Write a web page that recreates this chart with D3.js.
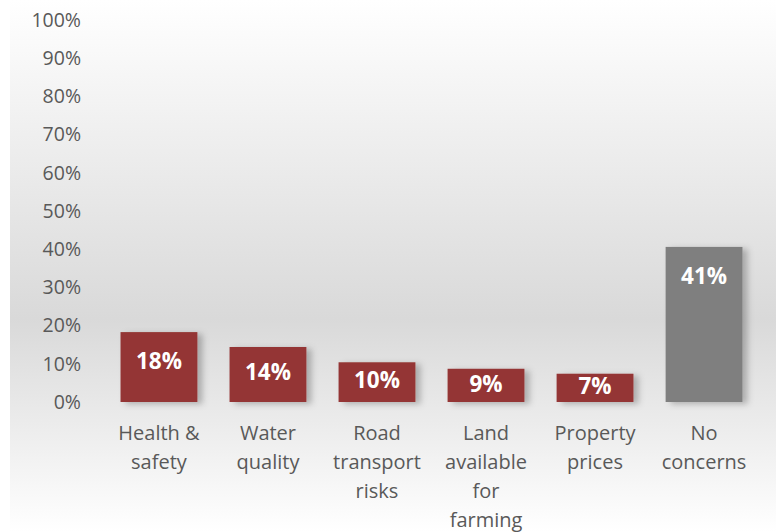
<!DOCTYPE html>
<html>
<head>
<meta charset="utf-8">
<script src="https://cdn.jsdelivr.net/npm/d3@7"></script>
<style>
html,body{margin:0;padding:0;background:#fff;}
svg{display:block;}
</style>
</head>
<body>
<svg id="chart" width="776" height="532"></svg>
<script>
const categories = [
  ["Health &", "safety"],
  ["Water", "quality"],
  ["Road", "transport", "risks"],
  ["Land", "available", "for", "farming"],
  ["Property", "prices"],
  ["No", "concerns"]
];
const values = [18.3, 14.4, 10.4, 8.7, 7.4, 40.6];
const barColors = ["#943634", "#943634", "#943634", "#943634", "#943634", "#7f7f7f"];
const yTicks = [0, 10, 20, 30, 40, 50, 60, 70, 80, 90, 100];

const W = 776, H = 532;
const svg = d3.select("#chart");
const defs = svg.append("defs");
const grad = defs.append("linearGradient").attr("id", "bg").attr("x1", 0).attr("y1", 0).attr("x2", 0).attr("y2", 1);
grad.append("stop").attr("offset", "0%").attr("stop-color", "#ffffff");
grad.append("stop").attr("offset", "60%").attr("stop-color", "#d9d9d9");
grad.append("stop").attr("offset", "100%").attr("stop-color", "#ffffff");
const f = defs.append("filter").attr("id", "shadow").attr("x", "-20%").attr("y", "-20%").attr("width", "150%").attr("height", "150%");
f.append("feDropShadow").attr("dx", 5).attr("dy", 2).attr("stdDeviation", 3).attr("flood-color", "#000").attr("flood-opacity", 0.25);

svg.append("rect").attr("x", 10).attr("y", 0).attr("width", W - 10).attr("height", H).attr("fill", "url(#bg)");

const font = "'Open Sans', Carlito, Calibri, Lato, sans-serif";
const y = d3.scaleLinear().domain([0, 100]).range([402, 20]);
const x = d3.scaleBand().domain(d3.range(categories.length)).range([104.5, 758.5]).paddingInner(0.295).paddingOuter(0.147);

const yAxis = svg.append("g").attr("transform", "translate(84,0)")
  .call(d3.axisLeft(y).tickValues(yTicks).tickFormat(d => d + "%").tickSize(0).tickPadding(3));
yAxis.select(".domain").remove();
yAxis.selectAll("text").attr("fill", "#595959").style("font-family", font).style("font-size", "19.5px");

const g = svg.append("g");
g.selectAll("rect.bar").data(values).enter().append("rect")
  .attr("class", "bar")
  .attr("x", (d, i) => x(i))
  .attr("y", d => y(d))
  .attr("width", x.bandwidth())
  .attr("height", d => y(0) - y(d))
  .attr("fill", (d, i) => barColors[i])
  .attr("filter", "url(#shadow)");

g.selectAll("text.lbl").data(values).enter().append("text")
  .attr("class", "lbl")
  .attr("x", (d, i) => x(i) + x.bandwidth() / 2)
  .attr("y", d => { const t = y(d), h = y(0) - t; return t + Math.min(29, h * 0.45); })
  .attr("dy", "0.35em")
  .attr("text-anchor", "middle")
  .attr("fill", "#ffffff")
  .style("font-family", font).style("font-weight", "bold").style("font-size", "22.5px")
  .text(d => Math.round(d) + "%");

const xAxis = svg.append("g").attr("transform", "translate(0,402)")
  .call(d3.axisBottom(x).tickSize(0).tickFormat(""));
xAxis.select(".domain").remove();
xAxis.selectAll(".tick").each(function(d) {
  const t = d3.select(this).append("text").attr("text-anchor", "middle").attr("fill", "#595959")
    .style("font-family", font).style("font-size", "20px");
  categories[d].forEach((line, k) => {
    t.append("tspan").attr("x", 0).attr("y", 31 + k * 29).attr("dy", "0.35em").text(line);
  });
});
</script>
</body>
</html>
